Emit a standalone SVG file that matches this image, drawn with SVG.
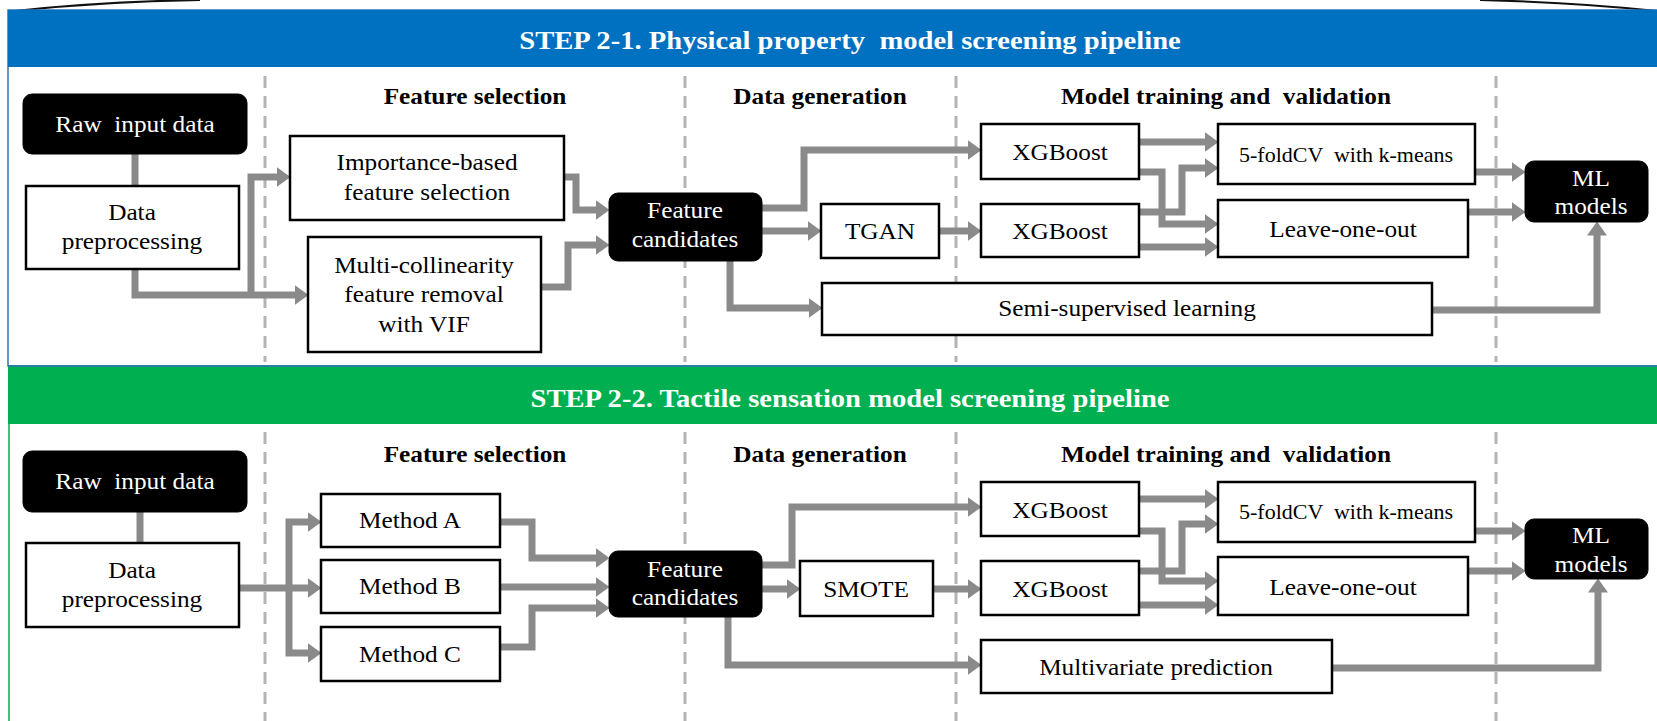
<svg xmlns="http://www.w3.org/2000/svg" width="1657" height="721" viewBox="0 0 1657 721">
<defs>
<style>
text{font-family:"Liberation Serif","Times New Roman",serif;text-anchor:middle;white-space:pre}
.t{font-size:23px;fill:#000}
.w{font-size:23px;fill:#fff}
.sm{font-size:20px;fill:#000}
.h{font-size:23px;font-weight:bold;fill:#000}
.ttl{font-size:26px;font-weight:bold;fill:#fff}
.box{fill:#fff;stroke:#000;stroke-width:2.5}
.blk{fill:#000;stroke:#000;stroke-width:1}
.dash{stroke:#b3b3b3;stroke-width:3;stroke-dasharray:12 8;fill:none}
.c{fill:none;stroke:#8a8a8a;stroke-width:7;stroke-linejoin:miter}
.ca{fill:none;stroke:#8a8a8a;stroke-width:7;stroke-linejoin:miter;marker-end:url(#ah)}
</style>
<marker id="ah" markerUnits="userSpaceOnUse" markerWidth="14" markerHeight="20" viewBox="0 0 14 20" refX="0.5" refY="10" orient="auto">
<path d="M0 0 L14 10 L0 20 Z" fill="#8a8a8a"/>
</marker>
</defs>
<rect x="0" y="0" width="1657" height="721" fill="#fff"/>
<!-- top bracket curves -->
<path d="M15 11 C70 5 130 1 200 0" fill="none" stroke="#111" stroke-width="2"/>
<path d="M1480 0 C1560 2 1610 6 1657 11" fill="none" stroke="#111" stroke-width="2"/>

<!-- panel 1 -->
<g id="panel1">
<rect x="8" y="10" width="1660" height="356" fill="#fff" stroke="#2e75b6" stroke-width="1.5"/>
<rect x="8" y="10" width="1660" height="57" fill="#0070c0"/>
<text class="ttl" xml:space="preserve" transform="translate(850 49) scale(1.1 1)">STEP 2-1. Physical property  model screening pipeline</text>
</g>
<!-- panel 2 -->
<g id="panel2">
<rect x="9" y="366" width="1660" height="400" fill="#fff" stroke="#00b050" stroke-width="1.5"/>
<rect x="8" y="366" width="1660" height="58" fill="#00b050"/>
<line x1="8" y1="366" x2="1657" y2="366" stroke="#2e75b6" stroke-width="1.5"/>
<text class="ttl" transform="translate(850 407) scale(1.1 1)">STEP 2-2. Tactile sensation model screening pipeline</text>
</g>

<!-- dashed separators -->
<g id="separators">
<path class="dash" d="M265 76V362M685 76V362M956 76V362M1496 76V362"/>
<path class="dash" d="M265 432V721M685 432V721M956 432V721M1496 432V721"/>
</g>

<!-- column headers -->
<g id="headers">
<text class="h" transform="translate(475 104) scale(1.1 1)">Feature selection</text>
<text class="h" transform="translate(820 104) scale(1.1 1)">Data generation</text>
<text class="h" xml:space="preserve" transform="translate(1226 104) scale(1.1 1)">Model training and  validation</text>
<text class="h" transform="translate(475 462) scale(1.1 1)">Feature selection</text>
<text class="h" transform="translate(820 462) scale(1.1 1)">Data generation</text>
<text class="h" xml:space="preserve" transform="translate(1226 462) scale(1.1 1)">Model training and  validation</text>
</g>

<!-- connectors -->
<g id="connectors">
<path class="c" d="M135 154V186"/>
<path class="ca" d="M135 269V295H295"/>
<path class="ca" d="M251 295V177H277"/>
<path class="ca" d="M564 177H576V210H596"/>
<path class="ca" d="M541 287H568V245H596"/>
<path class="ca" d="M762 208H804V150H968"/>
<path class="ca" d="M762 231H808"/>
<path class="ca" d="M939 231H968"/>
<path class="ca" d="M730 261V308H809"/>
<path class="ca" d="M1139 142H1205"/>
<path class="ca" d="M1139 172H1162V224H1205"/>
<path class="ca" d="M1139 212H1182V168H1205"/>
<path class="ca" d="M1139 247H1205"/>
<path class="ca" d="M1475 172H1512"/>
<path class="ca" d="M1468 212H1512"/>
<path class="ca" d="M1432 310H1597V235"/>

<path class="c" d="M140 512V543"/>
<path class="ca" d="M239 588H308"/>
<path class="ca" d="M289 588V522H308"/>
<path class="ca" d="M289 588V653H308"/>
<path class="ca" d="M500 522H532V558H596"/>
<path class="ca" d="M500 587H596"/>
<path class="ca" d="M500 647H532V608H596"/>
<path class="ca" d="M762 565H792V507H968"/>
<path class="ca" d="M762 589H787"/>
<path class="ca" d="M933 589H968"/>
<path class="ca" d="M728 617V665H968"/>
<path class="ca" d="M1139 499H1205"/>
<path class="ca" d="M1139 531H1162V581H1205"/>
<path class="ca" d="M1139 571H1182V524H1205"/>
<path class="ca" d="M1139 605H1205"/>
<path class="ca" d="M1475 531H1512"/>
<path class="ca" d="M1468 571H1512"/>
<path class="ca" d="M1332 668H1598V592"/>
</g>

<!-- top pipeline nodes -->
<g id="raw1"><rect class="blk" x="23" y="94" width="224" height="60" rx="9"/><text class="w" xml:space="preserve" transform="translate(135 132) scale(1.1 1)">Raw  input data</text></g>
<g id="prep1"><rect class="box" x="26" y="186" width="213" height="83"/><text class="t" transform="translate(132 220) scale(1.1 1)"><tspan x="0" y="0">Data</tspan><tspan x="0" y="29">preprocessing</tspan></text></g>
<g id="imp"><rect class="box" x="290" y="136" width="274" height="84"/><text class="t" transform="translate(427 170) scale(1.1 1)"><tspan x="0" y="0">Importance-based</tspan><tspan x="0" y="30">feature selection</tspan></text></g>
<g id="multi"><rect class="box" x="308" y="237" width="233" height="115"/><text class="t" transform="translate(424 273) scale(1.1 1)"><tspan x="0" y="0">Multi-collinearity</tspan><tspan x="0" y="29">feature removal</tspan><tspan x="0" y="59">with VIF</tspan></text></g>
<g id="fc1"><rect class="blk" x="609" y="193" width="153" height="68" rx="9"/><text class="w" transform="translate(685 218) scale(1.1 1)"><tspan x="0" y="0">Feature</tspan><tspan x="0" y="29">candidates</tspan></text></g>
<g id="tgan"><rect class="box" x="821" y="204" width="118" height="54"/><text class="t" transform="translate(880 239) scale(1.1 1)">TGAN</text></g>
<g id="xgb1a"><rect class="box" x="981" y="124" width="158" height="55"/><text class="t" transform="translate(1060 160) scale(1.1 1)">XGBoost</text></g>
<g id="xgb2a"><rect class="box" x="981" y="204" width="158" height="53"/><text class="t" transform="translate(1060 239) scale(1.1 1)">XGBoost</text></g>
<g id="semi"><rect class="box" x="822" y="283" width="610" height="52"/><text class="t" transform="translate(1127 316) scale(1.1 1)">Semi-supervised learning</text></g>
<g id="kfold1"><rect class="box" x="1218" y="124" width="257" height="60"/><text class="sm" xml:space="preserve" transform="translate(1346 162) scale(1.1 1)">5-foldCV  with k-means</text></g>
<g id="leave1"><rect class="box" x="1218" y="200" width="250" height="57"/><text class="t" transform="translate(1343 237) scale(1.1 1)">Leave-one-out</text></g>
<g id="ml1"><rect class="blk" x="1525" y="161" width="123" height="61" rx="9"/><text class="w" transform="translate(1591 186) scale(1.1 1)"><tspan x="0" y="0">ML</tspan><tspan x="0" y="28">models</tspan></text></g>

<!-- bottom pipeline nodes -->
<g id="raw2"><rect class="blk" x="23" y="451" width="224" height="61" rx="9"/><text class="w" xml:space="preserve" transform="translate(135 489) scale(1.1 1)">Raw  input data</text></g>
<g id="prep2"><rect class="box" x="26" y="543" width="213" height="84"/><text class="t" transform="translate(132 578) scale(1.1 1)"><tspan x="0" y="0">Data</tspan><tspan x="0" y="29">preprocessing</tspan></text></g>
<g id="methodA"><rect class="box" x="321" y="494" width="179" height="53"/><text class="t" transform="translate(410 528) scale(1.1 1)">Method A</text></g>
<g id="methodB"><rect class="box" x="321" y="560" width="179" height="53"/><text class="t" transform="translate(410 594) scale(1.1 1)">Method B</text></g>
<g id="methodC"><rect class="box" x="321" y="627" width="179" height="54"/><text class="t" transform="translate(410 662) scale(1.1 1)">Method C</text></g>
<g id="fc2"><rect class="blk" x="609" y="551" width="153" height="66" rx="9"/><text class="w" transform="translate(685 577) scale(1.1 1)"><tspan x="0" y="0">Feature</tspan><tspan x="0" y="28">candidates</tspan></text></g>
<g id="smote"><rect class="box" x="800" y="561" width="133" height="55"/><text class="t" transform="translate(866 597) scale(1.1 1)">SMOTE</text></g>
<g id="xgb1b"><rect class="box" x="981" y="482" width="158" height="54"/><text class="t" transform="translate(1060 518) scale(1.1 1)">XGBoost</text></g>
<g id="xgb2b"><rect class="box" x="981" y="561" width="158" height="54"/><text class="t" transform="translate(1060 597) scale(1.1 1)">XGBoost</text></g>
<g id="mvp"><rect class="box" x="981" y="640" width="351" height="53"/><text class="t" transform="translate(1156 675) scale(1.1 1)">Multivariate prediction</text></g>
<g id="kfold2"><rect class="box" x="1218" y="482" width="257" height="60"/><text class="sm" xml:space="preserve" transform="translate(1346 519) scale(1.1 1)">5-foldCV  with k-means</text></g>
<g id="leave2"><rect class="box" x="1218" y="557" width="250" height="58"/><text class="t" transform="translate(1343 595) scale(1.1 1)">Leave-one-out</text></g>
<g id="ml2"><rect class="blk" x="1525" y="519" width="123" height="60" rx="9"/><text class="w" transform="translate(1591 543) scale(1.1 1)"><tspan x="0" y="0">ML</tspan><tspan x="0" y="29">models</tspan></text></g>
</svg>
